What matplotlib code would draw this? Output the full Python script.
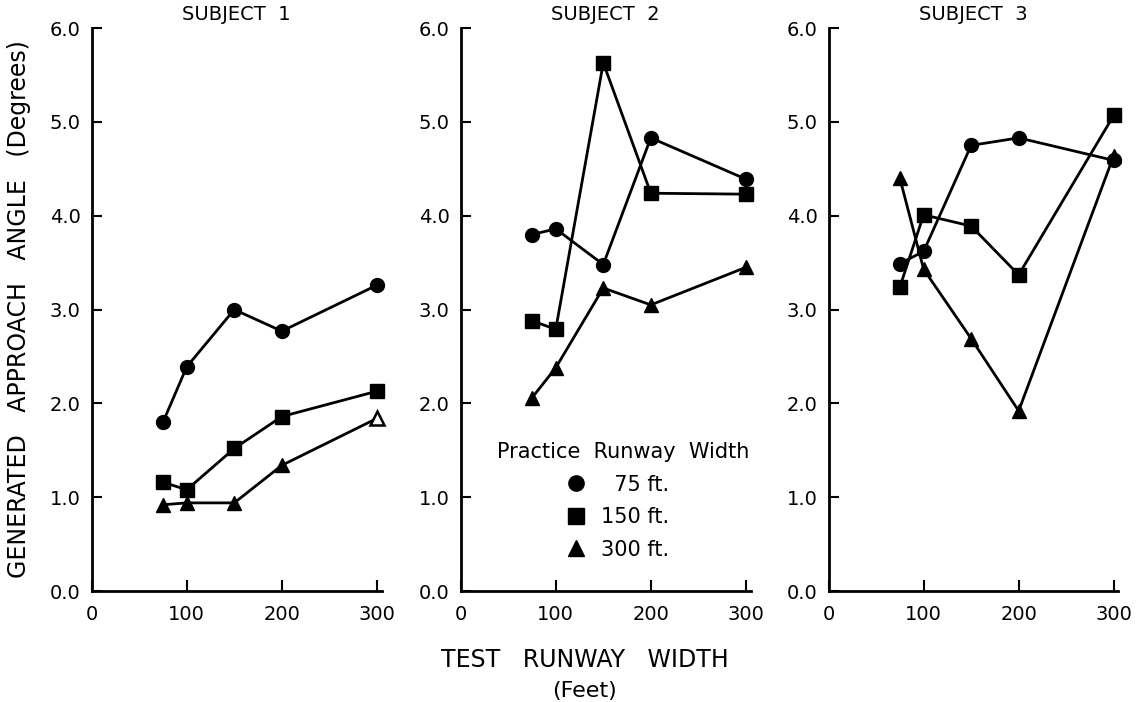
import matplotlib.pyplot as plt

plt.rcParams['font.family'] = "DejaVu Sans"
plt.rcParams['font.size'] = 12

x = [75, 100, 150, 200, 300]
subjects = ["SUBJECT  1", "SUBJECT  2", "SUBJECT  3"]

# practice runway width 75 ft (circles), 150 ft (squares), 300 ft (triangles)
s1_75 = [1.80, 2.39, 3.00, 2.77, 3.26]
s1_150 = [1.16, 1.08, 1.52, 1.86, 2.13]
s1_300 = [0.92, 0.94, 0.94, 1.34, 1.84]

s2_75 = [3.80, 3.86, 3.48, 4.83, 4.39]
s2_150 = [2.88, 2.79, 5.63, 4.24, 4.23]
s2_300 = [2.06, 2.38, 3.23, 3.05, 3.45]

s3_75 = [3.49, 3.62, 4.75, 4.83, 4.59]
s3_150 = [3.24, 4.01, 3.89, 3.37, 5.07]
s3_300 = [4.40, 3.43, 2.69, 1.92, 4.64]

data = [(s1_75, s1_150, s1_300), (s2_75, s2_150, s2_300), (s3_75, s3_150, s3_300)]
legend_labels = ["  75 ft.", "150 ft.", "300 ft."]
markers = ["o", "s", "^"]

fig = plt.figure(figsize=(11.46, 7.02), dpi=100)
lefts = [0.080, 0.402, 0.723]
axes = []
for i in range(3):
    ax = fig.add_axes([lefts[i], 0.158, 0.253, 0.802])
    axes.append(ax)
    for j, ys in enumerate(data[i]):
        ax.plot(x, ys, color="black", lw=2, marker=markers[j], ms=10,
                label=legend_labels[j], clip_on=False)
    ax.set_xlim(0, 305)
    ax.set_ylim(0, 6)
    ax.set_xticks([0, 100, 200, 300])
    ax.set_yticks([0, 1, 2, 3, 4, 5, 6])
    ax.set_yticklabels([f"{v:.1f}" for v in range(7)])
    ax.spines['top'].set_visible(False)
    ax.spines['right'].set_visible(False)
    ax.spines['left'].set_linewidth(2)
    ax.spines['bottom'].set_linewidth(2)
    ax.tick_params(axis='y', direction='in', length=7, width=1.5, pad=8, labelsize=14)
    ax.tick_params(axis='x', direction='in', length=8, width=1.5, pad=10, labelsize=14)
    ax.set_title(subjects[i], fontsize=14, pad=6)

# open triangle at 300 ft for subject 1
axes[0].lines[2].set_markevery([0, 1, 2, 3])
axes[0].plot([300], [s1_300[-1]], marker="^", ms=10, mfc="white", mec="black", mew=1.8,
             ls="none", clip_on=False)

leg = axes[1].legend(loc="center", bbox_to_anchor=(0.56, 0.16), frameon=False,
                     title="Practice  Runway  Width", fontsize=15, title_fontsize=15,
                     handlelength=0, handletextpad=1.2, labelspacing=0.6,
                     markerscale=1.1)
for h in leg.legend_handles:
    h.set_linestyle("none")

fig.text(0.017, 0.56, "GENERATED   APPROACH   ANGLE   (Degrees)", rotation=90,
         ha="center", va="center", fontsize=17)
fig.text(0.51, 0.06, "TEST   RUNWAY   WIDTH", ha="center", va="center", fontsize=17)
fig.text(0.51, 0.015, "(Feet)", ha="center", va="center", fontsize=16)

plt.savefig("out.png", dpi=100)
